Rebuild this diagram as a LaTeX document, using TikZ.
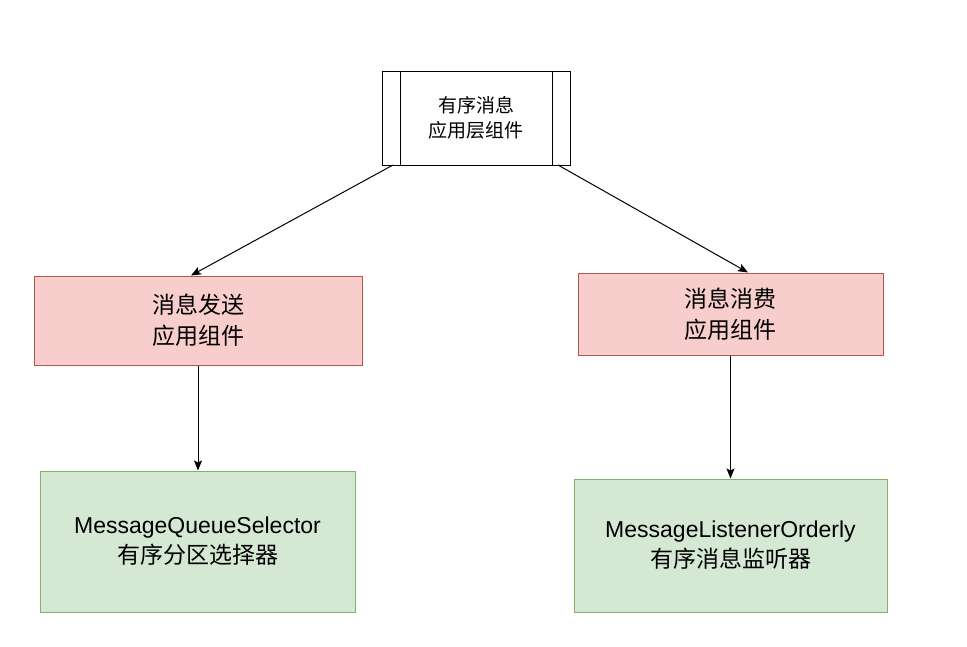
\documentclass[tikz,border=0pt]{standalone}
\usepackage{fontspec}
\setmainfont{Liberation Sans}
\newfontfamily\cjk{Noto Sans CJK SC}
\usetikzlibrary{arrows.meta}
\definecolor{pinkfill}{HTML}{F8CECC}
\definecolor{pinkline}{HTML}{B85450}
\definecolor{greenfill}{HTML}{D5E8D4}
\definecolor{greenline}{HTML}{82B366}
\begin{document}
\begin{tikzpicture}[x=1pt,y=-1pt,
  base/.style={draw, line width=1pt, inner sep=0pt, align=center},
  topbox/.style={base, black, fill=white, minimum width=188pt, minimum height=94pt, font=\fontsize{19}{25}\selectfont},
  redbox/.style={base, draw=pinkline, fill=pinkfill, font=\fontsize{23}{31}\selectfont},
  grnbox/.style={base, draw=greenline, fill=greenfill, font=\fontsize{23}{30}\selectfont},
  conn/.style={line width=1pt, -{Stealth[length=10pt,width=8pt,inset=2pt]}}
]
\useasboundingbox (0,0) rectangle (967,646);
\fill[white] (0,0) rectangle (967,646);
\node[topbox] (top) at (476,118) {\cjk 有序消息\\\cjk 应用层组件};
\draw[line width=1pt] (400,71) -- (400,165) (552,71) -- (552,165);
\node[redbox, minimum width=328pt, minimum height=89pt] (send) at (198,320.5) {\cjk 消息发送\\\cjk 应用组件};
\node[redbox, minimum width=305pt, minimum height=82pt] (cons) at (730.5,314) {\cjk 消息消费\\\cjk 应用组件};
\node[grnbox, minimum width=315pt, minimum height=141pt] (sel) at (197.5,541.5) {MessageQueueSelector\\\cjk 有序分区选择器};
\node[grnbox, minimum width=313pt, minimum height=133pt] (lis) at (730.5,545.5) {MessageListenerOrderly\\\cjk 有序消息监听器};
\coordinate (tl) at (393,165);
\coordinate (tr) at (558,165);
\draw[conn] (tl) -- (send.north -| 191,0);
\draw[conn] (tr) -- (cons.north -| 748,0);
\draw[conn] (send.south) -- (sel.north -| send.south);
\draw[conn] (cons.south) -- (lis.north -| cons.south);
\end{tikzpicture}
\end{document}
